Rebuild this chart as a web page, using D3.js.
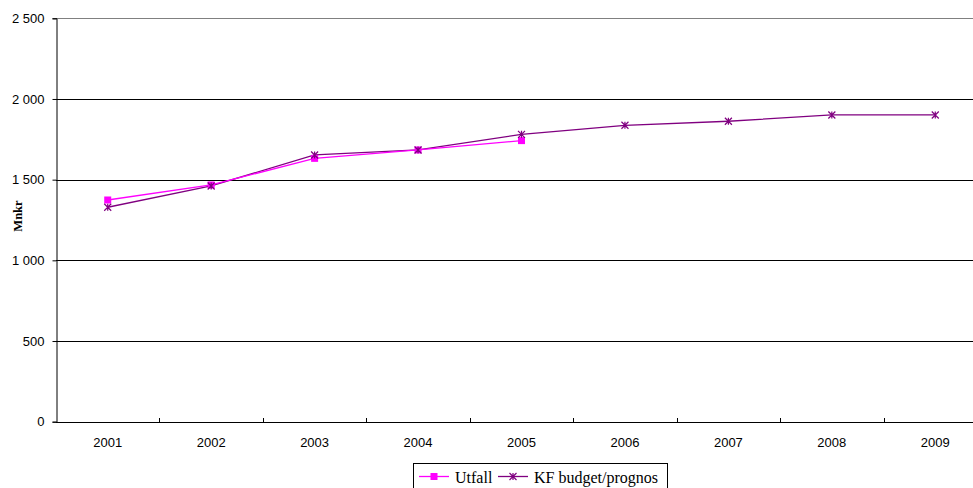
<!DOCTYPE html>
<html><head><meta charset="utf-8">
<script src="https://cdn.jsdelivr.net/npm/d3@7"></script>
<style>body{margin:0;background:#fff}svg{display:block}</style>
</head><body>
<svg id="c" width="973" height="488"></svg>
<script>
const years = ["2001","2002","2003","2004","2005","2006","2007","2008","2009"];
const utfall = [1374, 1467, 1632, 1684, 1742];
const kfBudget = [1329, 1461, 1653, 1684, 1781, 1837, 1862, 1901, 1901];
const yTicks = [0, 500, 1000, 1500, 2000, 2500];
const seriesNames = ["Utfall", "KF budget/prognos"];

const svg = d3.select("#c");
const SANS = "'Liberation Sans', Arial, sans-serif";
const SERIF = "'Liberation Serif','Times New Roman',serif";
const m = {l:56, t:18.3, r:987, b:421.7};
const x = d3.scaleBand().domain(years).range([m.l, m.r]);
const y = d3.scaleLinear().domain([0,2500]).range([m.b, m.t]);
const fmt = v => d3.format(",")(v).replace(/,/g, "\u00a0");

// gridlines
svg.append("g").selectAll("line").data(yTicks.filter(d=>d>0)).join("line")
  .attr("x1", m.l).attr("x2", 973).attr("y1", d=>Math.round(y(d))+0.5).attr("y2", d=>Math.round(y(d))+0.5)
  .attr("stroke", d=> d===2500 ? "#808080" : "#000").attr("stroke-width",1);

// y axis
const ya = svg.append("g").attr("transform", `translate(${m.l+0.5},0)`)
  .call(d3.axisLeft(y).tickValues(yTicks).tickFormat(fmt).tickSizeOuter(0).tickSize(4));
ya.select(".domain").attr("stroke","#000");
ya.selectAll(".tick line").attr("stroke","#000");
ya.selectAll(".tick text").attr("font-family",SANS).attr("font-size","13px").attr("fill","#000").attr("x",-12);

// x axis line
svg.append("line").attr("x1", m.l).attr("x2", 973).attr("y1", Math.round(m.b)+0.5).attr("y2", Math.round(m.b)+0.5).attr("stroke","#000");
// x ticks between categories (upward)
svg.append("g").selectAll("line").data(years.slice(1)).join("line")
  .attr("x1", d=>Math.round(x(d))+0.5).attr("x2", d=>Math.round(x(d))+0.5)
  .attr("y1", Math.round(m.b)-4).attr("y2", Math.round(m.b)+0.5).attr("stroke","#000");
svg.append("g").selectAll("text").data(years).join("text")
  .attr("x", d=>x(d)+x.bandwidth()/2).attr("y", 447).attr("text-anchor","middle")
  .attr("font-family",SANS).attr("font-size","13px").text(d=>d);

// y label
svg.append("text").attr("transform", "translate(21.5,216) rotate(-90)").attr("text-anchor","middle")
  .attr("font-family",SERIF).attr("font-size","12.5px").attr("font-weight","bold").text("Mnkr");

const cx = (d,i) => x(years[i]) + x.bandwidth()/2;
const line = d3.line().x(cx).y(d=>y(d));

const cU = "#FF00FF", cK = "#800080";
svg.append("path").datum(kfBudget).attr("d", line).attr("fill","none").attr("stroke",cK).attr("stroke-width",1.3);
svg.append("path").datum(utfall).attr("d", line).attr("fill","none").attr("stroke",cU).attr("stroke-width",1.3);

function star(g, px, py, col){
  const s=3.5;
  g.append("path").attr("d", `M${px-s},${py-s}L${px+s},${py+s}M${px-s},${py+s}L${px+s},${py-s}M${px},${py-s}L${px},${py+s}`)
   .attr("stroke", col).attr("stroke-width",1.2).attr("fill","none");
}
const gm = svg.append("g");
utfall.forEach((d,i)=> gm.append("rect").attr("x", cx(d,i)-3.5).attr("y", y(d)-3.5).attr("width",7).attr("height",7).attr("fill",cU));
kfBudget.forEach((d,i)=> star(gm, cx(d,i), y(d), cK));

// legend
const lg = svg.append("g");
lg.append("rect").attr("x",413.5).attr("y",463.5).attr("width",254).attr("height",30).attr("fill","#fff").attr("stroke","#000");
lg.append("line").attr("x1",419).attr("x2",449).attr("y1",476.5).attr("y2",476.5).attr("stroke",cU).attr("stroke-width",1.3);
lg.append("rect").attr("x",430.5).attr("y",473).attr("width",7).attr("height",7).attr("fill",cU);
lg.append("text").attr("x",455).attr("y",483).attr("font-family",SERIF).attr("font-size","16px").text(seriesNames[0]);
lg.append("line").attr("x1",498).attr("x2",528).attr("y1",476.5).attr("y2",476.5).attr("stroke",cK).attr("stroke-width",1.3);
star(lg, 513, 476.5, cK);
lg.append("text").attr("x",534).attr("y",483).attr("font-family",SERIF).attr("font-size","16px").text(seriesNames[1]);
</script>
</body></html>
